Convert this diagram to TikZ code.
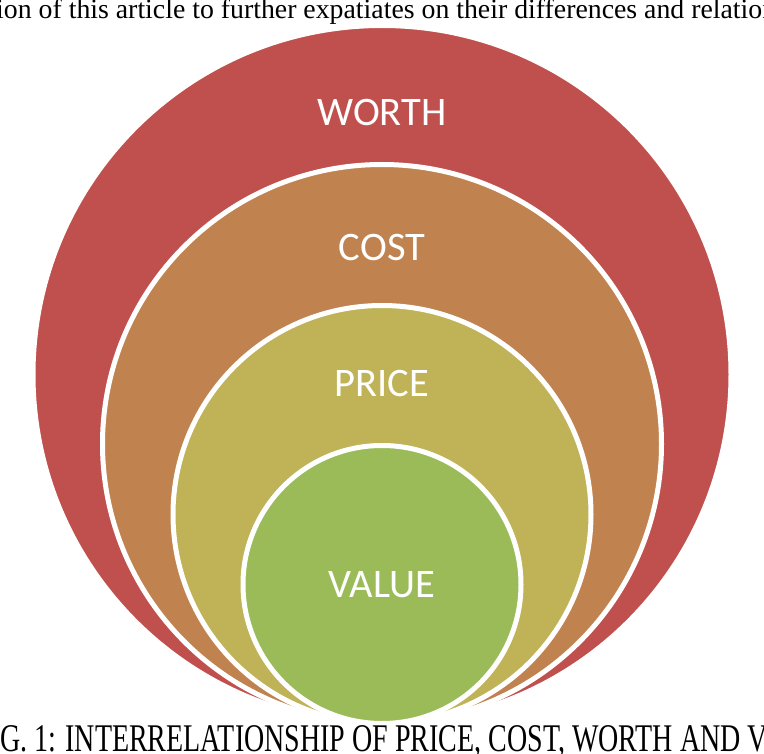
\documentclass[tikz,border=0pt]{standalone}
\usepackage{fontspec}
\setmainfont{Liberation Serif}
\newfontfamily\ringfont{Carlito}
\usepackage{graphicx}
\usetikzlibrary{positioning}
\definecolor{worthred}{HTML}{C0504D}
\definecolor{costbrown}{HTML}{C0834F}
\definecolor{priceolive}{HTML}{BFB257}
\definecolor{valuegreen}{HTML}{9BBB59}

\begin{document}
\begin{tikzpicture}[
  x=1pt,y=-1pt,
  disc/.style={circle,draw=white,line width=5pt,inner sep=0pt,outer sep=0pt,
               anchor=south},
  lbl/.style={text=white,font=\ringfont\fontsize{40.5}{42}\selectfont,inner sep=0pt},
  captext/.style={inner sep=0pt,anchor=base west},
]
  \useasboundingbox (0,0) rectangle (764,754);
  \coordinate (base) at (382,723.5);

  % nested circles, all resting on the same point
  \node[disc,fill=worthred,minimum size=698pt]   (worth) at (base) {};
  \node[disc,fill=costbrown,minimum size=559pt]  (cost)  at (base) {};
  \node[disc,fill=priceolive,minimum size=418pt] (price) at (base) {};
  \node[disc,fill=valuegreen,minimum size=278pt] (value) at (base) {};

  \node[lbl] (worthlbl) at ([yshift=-86.5pt]worth.north) {WORTH};
  \node[lbl] (costlbl)  at ([yshift=-83pt]cost.north)    {COST};
  \node[lbl] (pricelbl) at ([yshift=-77.5pt]price.north) {PRICE};
  \node[lbl] (valuelbl) at (value.center)                {VALUE};

  \node[captext,font=\fontsize{27.8}{30}\selectfont] (topline) at (-4,19)
        {ion of this article to further expatiates on their differences and relation};
  \node[captext,font=\fontsize{28}{30}\selectfont] (caption) at (0,751)
        {\scalebox{1}[1.4]{G. 1: INTERRELATIONSHIP OF PRICE, COST, WORTH AND V}};
\end{tikzpicture}
\end{document}
